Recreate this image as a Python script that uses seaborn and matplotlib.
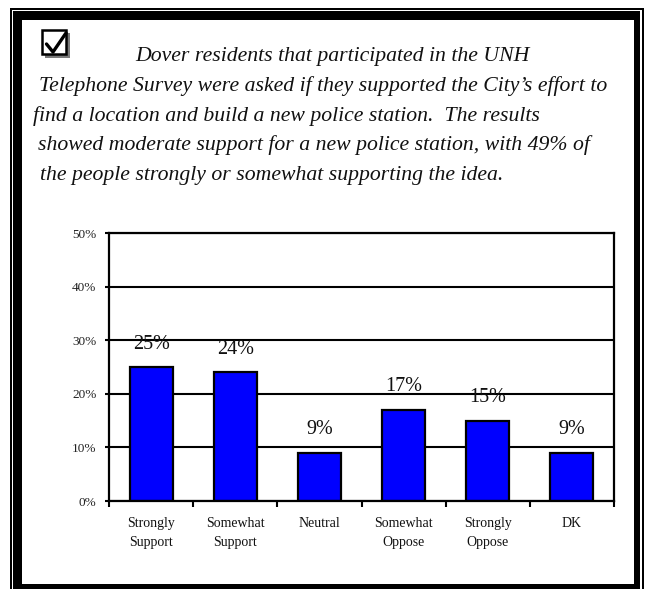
import matplotlib
matplotlib.use("Agg")
import matplotlib.pyplot as plt
import seaborn as sns
import pandas as pd
from matplotlib.patches import Rectangle

# ---------------- data ----------------
categories = ["Strongly\nSupport", "Somewhat\nSupport", "Neutral",
              "Somewhat\nOppose", "Strongly\nOppose", "DK"]
values = [25, 24, 9, 17, 15, 9]
value_labels = ["25%", "24%", "9%", "17%", "15%", "9%"]
y_ticks = [0, 10, 20, 30, 40, 50]
y_tick_labels = ["0%", "10%", "20%", "30%", "40%", "50%"]
caption_lines = [
    "Dover residents that participated in the UNH",
    "Telephone Survey were asked if they supported the City\u2019s effort to",
    "find a location and build a new police station.  The results",
    "showed moderate support for a new police station, with 49% of",
    "the people strongly or somewhat supporting the idea.",
]

# ---------------- setup ----------------
W, H, DPI = 646, 589, 100
sns.set_theme(style="white")
plt.rcParams['font.family'] = ['Liberation Serif', 'DejaVu Serif']

fig = plt.figure(figsize=(W / DPI, H / DPI), dpi=DPI)
fig.patch.set_facecolor('white')

# decoration layer in pixel coordinates
deco = fig.add_axes([0, 0, 1, 1], zorder=0)
deco.set_xlim(0, W)
deco.set_ylim(H, 0)
deco.axis('off')

def band(x0, y0, x1, y1, color='black'):
    deco.add_patch(Rectangle((x0, y0), x1 - x0, y1 - y0, facecolor=color,
                             edgecolor='none', linewidth=0))

# thin outer frame
band(10, 8, 11.7, H)
band(10, 8, 643.7, 9.7)
band(642, 8, 643.7, H)
# thick frame
band(13.3, 11, 22, H)
band(13.3, 11, 639.5, 20)
band(633.5, 11, 639.5, H)
band(13.3, 584, 639.5, H)

# check box
deco.add_patch(Rectangle((44.5, 32.5), 25, 25, facecolor='#7a7a7a', edgecolor='none'))
deco.add_patch(Rectangle((42, 30), 24, 24, facecolor='white', edgecolor='black', linewidth=1.8))
deco.plot([46.5, 53, 66], [44, 52, 33], color='black', linewidth=2.4,
          solid_capstyle='round', solid_joinstyle='round')

# caption text (italic serif)
x_starts = [135, 39, 33, 38, 40]
baselines = [61, 91, 121, 150, 180]
probe = deco.text(0, 0, caption_lines[1], fontsize=16, style='italic')
fig.canvas.draw()
bw = probe.get_window_extent().width
probe.remove()
fs = 16 * 570.0 / bw
for s, x, yb in zip(caption_lines, x_starts, baselines):
    deco.text(x, yb, s, fontsize=fs, style='italic', ha='left', va='baseline',
              color='#111111')

# ---------------- chart ----------------
ax = fig.add_axes([109 / W, 1 - 501 / H, 505 / W, 268 / H], zorder=1)
ax.set_facecolor('white')
df = pd.DataFrame({'category': categories, 'value': values})
sns.barplot(data=df, x='category', y='value', color='#0000FF', saturation=1,
            edgecolor='black', linewidth=1.6, width=0.51, ax=ax)

ax.set_xlim(-0.5, len(categories) - 0.5)
ax.set_ylim(y_ticks[0], y_ticks[-1])
ax.set_xlabel('')
ax.set_ylabel('')

ax.set_yticks(y_ticks)
ax.set_yticklabels(y_tick_labels, fontsize=9.5, color='#222222')
ax.yaxis.grid(True, color='black', linewidth=1.5)
ax.xaxis.grid(False)
ax.set_axisbelow(True)

for sp in ax.spines.values():
    sp.set_visible(True)
    sp.set_color('black')
    sp.set_linewidth(1.6)

ax.tick_params(axis='y', which='major', left=True, direction='out', length=3,
               width=1.5, pad=6, color='black')
ax.set_xticks(range(len(categories)))
ax.set_xticklabels(categories, fontsize=10, color='#111111')
ax.set_xticks([i - 0.5 for i in range(len(categories) + 1)], minor=True)
ax.tick_params(axis='x', which='major', bottom=True, length=0, pad=11.5)
ax.tick_params(axis='x', which='minor', bottom=True, direction='out', length=4,
               width=1.5, color='black')
for t in ax.get_xticklabels():
    t.set_linespacing(1.6)

for i, (v, lab) in enumerate(zip(values, value_labels)):
    ax.annotate(lab, xy=(i, v), xytext=(0, 16.5), textcoords='offset points',
                ha='center', va='center', fontsize=14.5, color='#111111')

fig.savefig('out.png', dpi=DPI, facecolor='white')
